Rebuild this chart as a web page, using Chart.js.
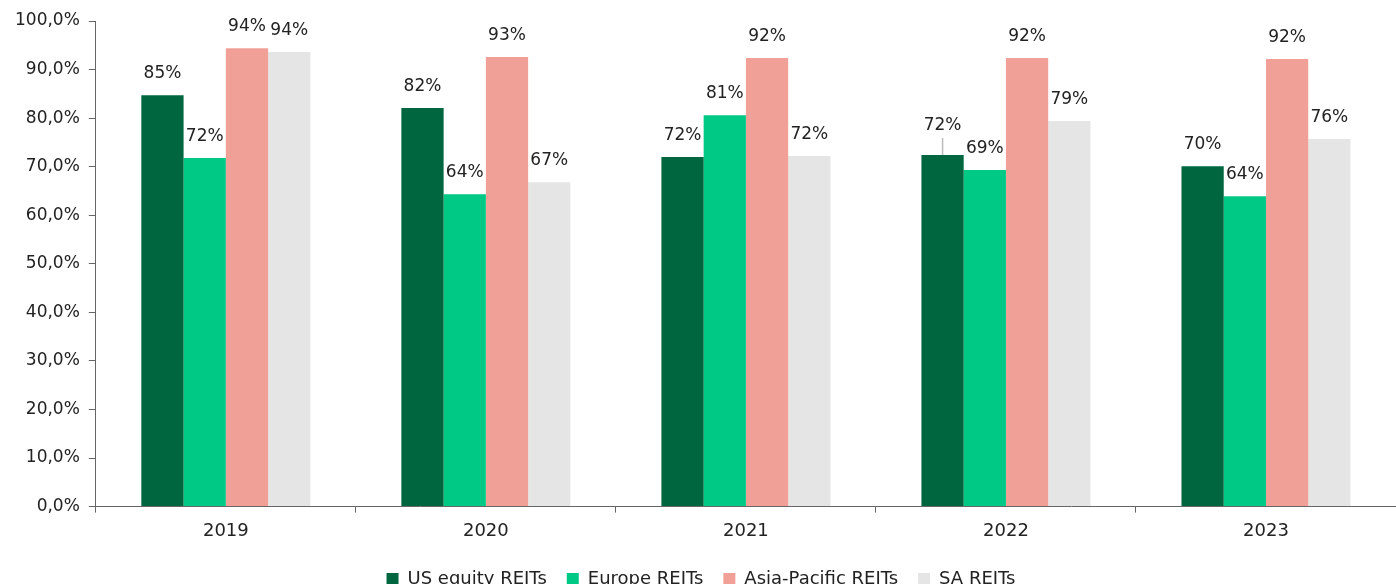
<!DOCTYPE html>
<html>
<head>
<meta charset="utf-8">
<script src="https://cdn.jsdelivr.net/npm/chart.js@4"></script>
<style>
  html, body { margin: 0; padding: 0; background: #fff; overflow: hidden; }
  #wrap { width: 1396px; height: 600px; }
</style>
</head>
<body>
<div id="wrap"><canvas id="chart"></canvas></div>
<script>
const years = ["2019", "2020", "2021", "2022", "2023"];
const usEquity = [84.7, 82.1, 72.0, 72.4, 70.1];
const europe = [71.8, 64.3, 80.6, 69.3, 63.9];
const asiaPacific = [94.4, 92.6, 92.4, 92.4, 92.2];
const saReits = [93.6, 66.8, 72.2, 79.4, 75.7];

const font = "'DejaVu Sans', sans-serif";

// value labels above every bar
const barLabels = {
  id: 'barLabels',
  afterDatasetsDraw(chart) {
    const ctx = chart.ctx;
    ctx.save();
    ctx.font = "17px " + font;
    ctx.fillStyle = '#222';
    ctx.textAlign = 'center';
    ctx.textBaseline = 'bottom';
    chart.data.datasets.forEach((ds, i) => {
      chart.getDatasetMeta(i).data.forEach((bar, j) => {
        let y = bar.y - 13;
        // the 2022 US label is lifted with a small leader line
        if (i === 0 && j === 3) {
          y = bar.y - 21;
          ctx.strokeStyle = '#bbb';
          ctx.lineWidth = 1.5;
          ctx.beginPath();
          ctx.moveTo(bar.x, y + 4);
          ctx.lineTo(bar.x, bar.y);
          ctx.stroke();
        }
        ctx.fillText(Math.round(ds.data[j]) + '%', bar.x, y);
      });
    });
    ctx.restore();
  }
};

new Chart(document.getElementById('chart'), {
  type: 'bar',
  data: {
    labels: years,
    datasets: [
      { label: 'US equity REITs', data: usEquity, backgroundColor: '#00663f' },
      { label: 'Europe REITs', data: europe, backgroundColor: '#00c985' },
      { label: 'Asia-Pacific REITs', data: asiaPacific, backgroundColor: '#f1a097' },
      { label: 'SA REITs', data: saReits, backgroundColor: '#e5e5e5' }
    ]
  },
  options: {
    responsive: true,
    maintainAspectRatio: false,
    animation: false,
    layout: { padding: { top: 21, right: 0, left: 6, bottom: 2 } },
    datasets: { bar: { categoryPercentage: 0.65, barPercentage: 1.0 } },
    scales: {
      x: {
        grid: { display: true, offset: true, drawOnChartArea: false, drawTicks: true, tickLength: 6, color: '#666' },
        border: { color: '#666' },
        ticks: { color: '#222', font: { family: font, size: 18, lineHeight: 0.3 }, padding: 16 }
      },
      y: {
        min: 0, max: 100,
        grid: { display: true, drawOnChartArea: false, drawTicks: true, tickLength: 7, color: '#666' },
        border: { color: '#666' },
        ticks: {
          stepSize: 10,
          color: '#222',
          font: { family: font, size: 17 },
          padding: 9,
          callback: v => v.toFixed(1).replace('.', ',') + '%'
        }
      }
    },
    plugins: {
      legend: {
        position: 'bottom',
        labels: {
          boxWidth: 12, boxHeight: 12, padding: 20,
          color: '#222', font: { family: font, size: 18 }
        }
      },
      tooltip: { enabled: false }
    }
  },
  plugins: [barLabels]
});
</script>
</body>
</html>
